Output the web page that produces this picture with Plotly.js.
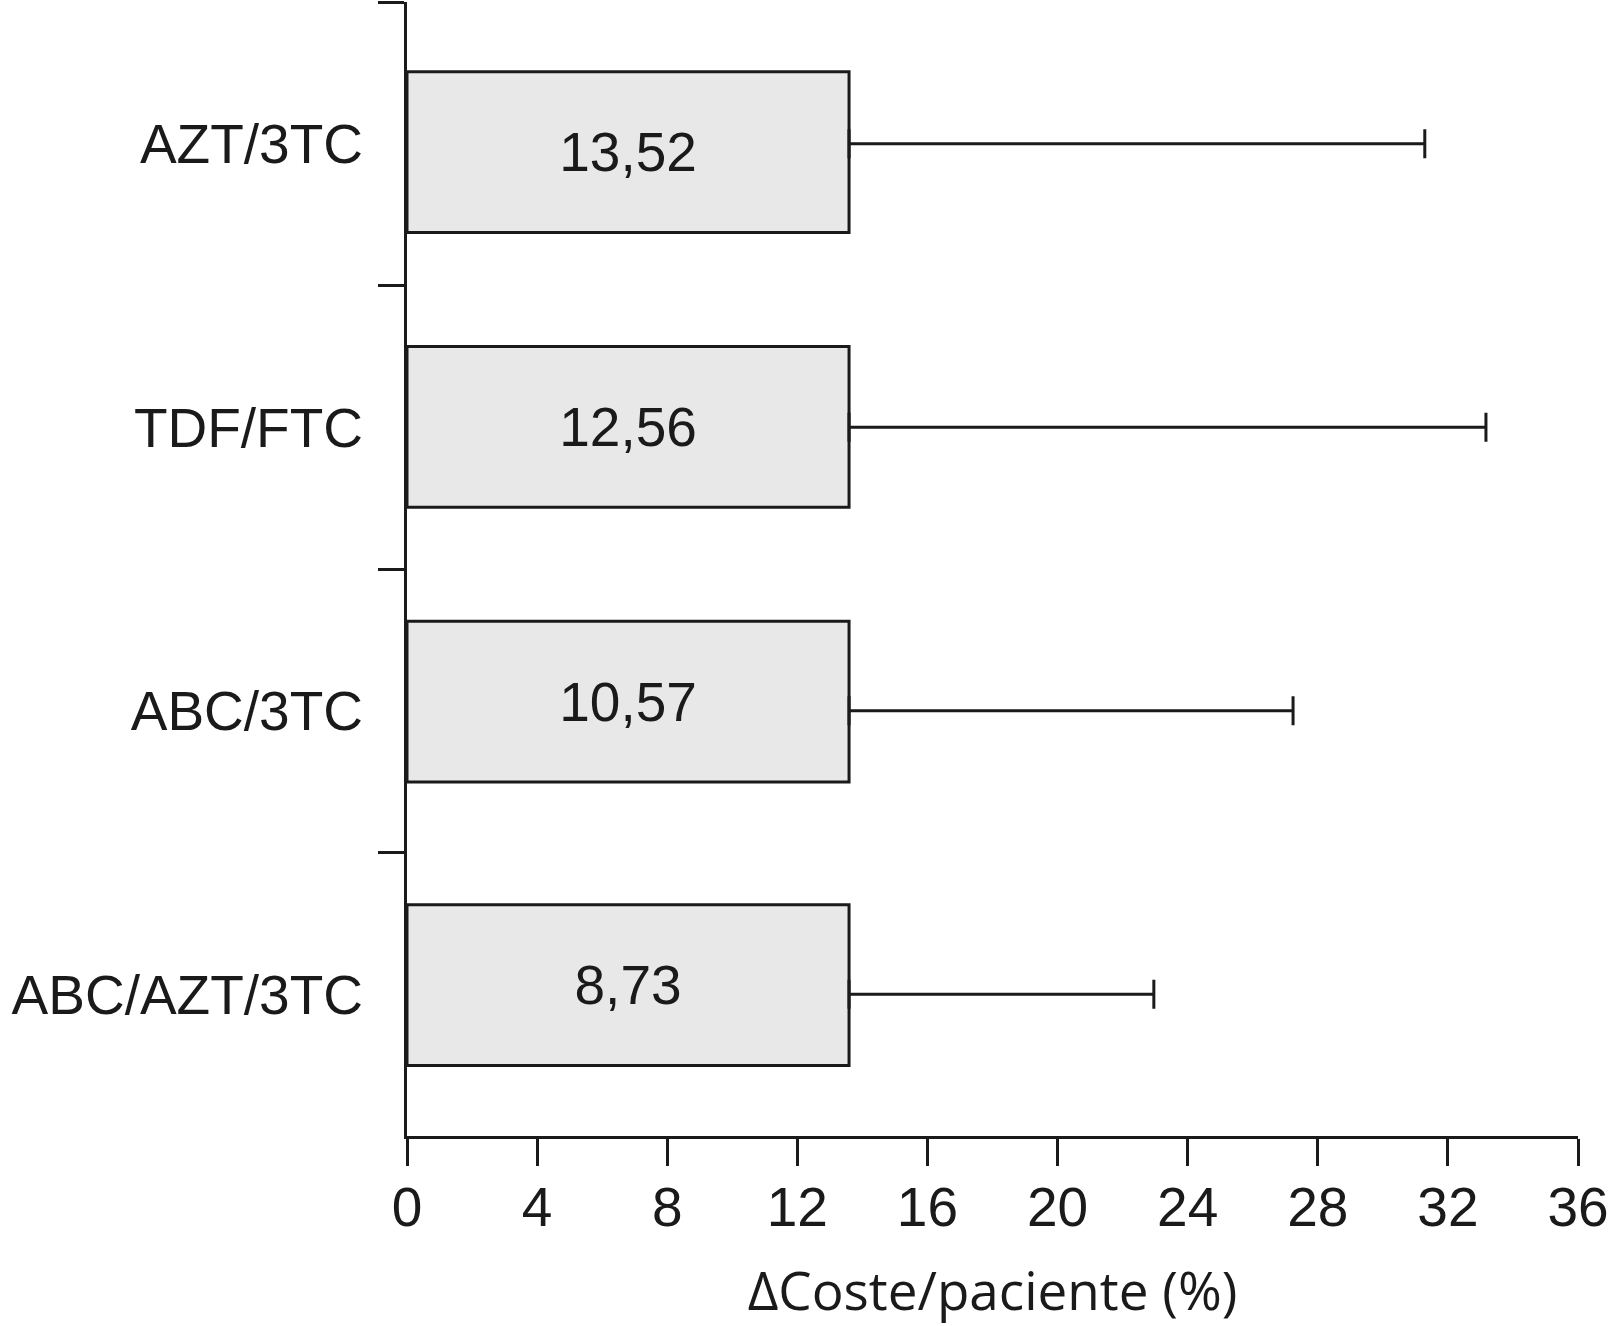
<!DOCTYPE html>
<html>
<head>
<meta charset="utf-8">
<script src="https://cdn.plot.ly/plotly-3.0.1.min.js"></script>
<style>
html,body{margin:0;padding:0;background:#fff;}
#chart{width:1610px;height:1326px;}
</style>
</head>
<body>
<div id="chart"></div>
<script>
// Categories (top to bottom)
var categories = ["AZT/3TC", "TDF/FTC", "ABC/3TC", "ABC/AZT/3TC"];
// Printed values inside bars
var labelValues = ["13,52", "12,56", "10,57", "8,73"];
// Bar lengths as drawn in the picture (all drawn to the same length)
var barLengths = [13.59, 13.59, 13.59, 13.59];
// Upper ends of the error bars
var errorUpper = [31.29, 33.17, 27.24, 22.96];
// X tick values
var xTicks = [0, 4, 8, 12, 16, 20, 24, 28, 32, 36];

var errPlus = errorUpper.map(function(u, i){ return u - barLengths[i]; });
var errMinus = barLengths.map(function(){ return 0; });

var ink = "#1a1a1a";
var fontMain = "Liberation Sans, Arial, sans-serif";

var bars = {
  type: "bar",
  orientation: "h",
  y: categories,
  x: barLengths,
  width: 0.567,
  offset: [-0.254, -0.285, -0.316, -0.316],
  text: labelValues,
  texttemplate: "%{text}",
  textposition: "inside",
  insidetextanchor: "middle",
  textangle: 0,
  insidetextfont: {family: fontMain, size: 55, color: ink},
  marker: {color: "#e8e8e8", line: {color: ink, width: 3}},
  hoverinfo: "none",
  cliponaxis: false
};

// Error bars drawn at the category centres (one-sided, upper only)
var errors = {
  type: "scatter",
  mode: "markers",
  orientation: "h",
  y: categories,
  x: barLengths,
  marker: {size: 1, opacity: 0},
  error_x: {
    type: "data",
    symmetric: false,
    array: errPlus,
    arrayminus: errMinus,
    color: ink,
    thickness: 3,
    width: 14.5
  },
  hoverinfo: "none",
  cliponaxis: false
};

var layout = {
  width: 1610,
  height: 1326,
  margin: {l: 407, r: 32, t: 2, b: 190},
  paper_bgcolor: "#ffffff",
  plot_bgcolor: "#ffffff",
  showlegend: false,
  font: {family: fontMain, size: 55, color: ink},
  xaxis: {
    range: [0, 36],
    tickvals: xTicks,
    ticktext: xTicks.map(String),
    ticks: "outside",
    ticklen: 27,
    tickwidth: 3,
    tickcolor: ink,
    showline: true,
    linewidth: 3,
    linecolor: ink,
    showgrid: false,
    zeroline: false,
    ticklabelstandoff: -6,
    tickfont: {family: fontMain, size: 55, color: ink},
    title: {
      text: "\u0394Coste/paciente (%)",
      font: {family: "Open Sans, sans-serif", size: 53, color: ink},
      standoff: 38
    },
    fixedrange: true
  },
  yaxis: {
    type: "category",
    categoryorder: "array",
    categoryarray: categories,
    autorange: "reversed",
    tickson: "boundaries",
    ticks: "outside",
    ticklen: 26,
    tickwidth: 3,
    tickcolor: ink,
    showline: true,
    linewidth: 3,
    linecolor: ink,
    showgrid: false,
    zeroline: false,
    ticklabelstandoff: 30,
    tickfont: {family: fontMain, size: 55, color: ink},
    fixedrange: true
  },
  bargap: 0.433
};

Plotly.newPlot("chart", [bars, errors], layout, {staticPlot: true, displayModeBar: false});
</script>
</body>
</html>
